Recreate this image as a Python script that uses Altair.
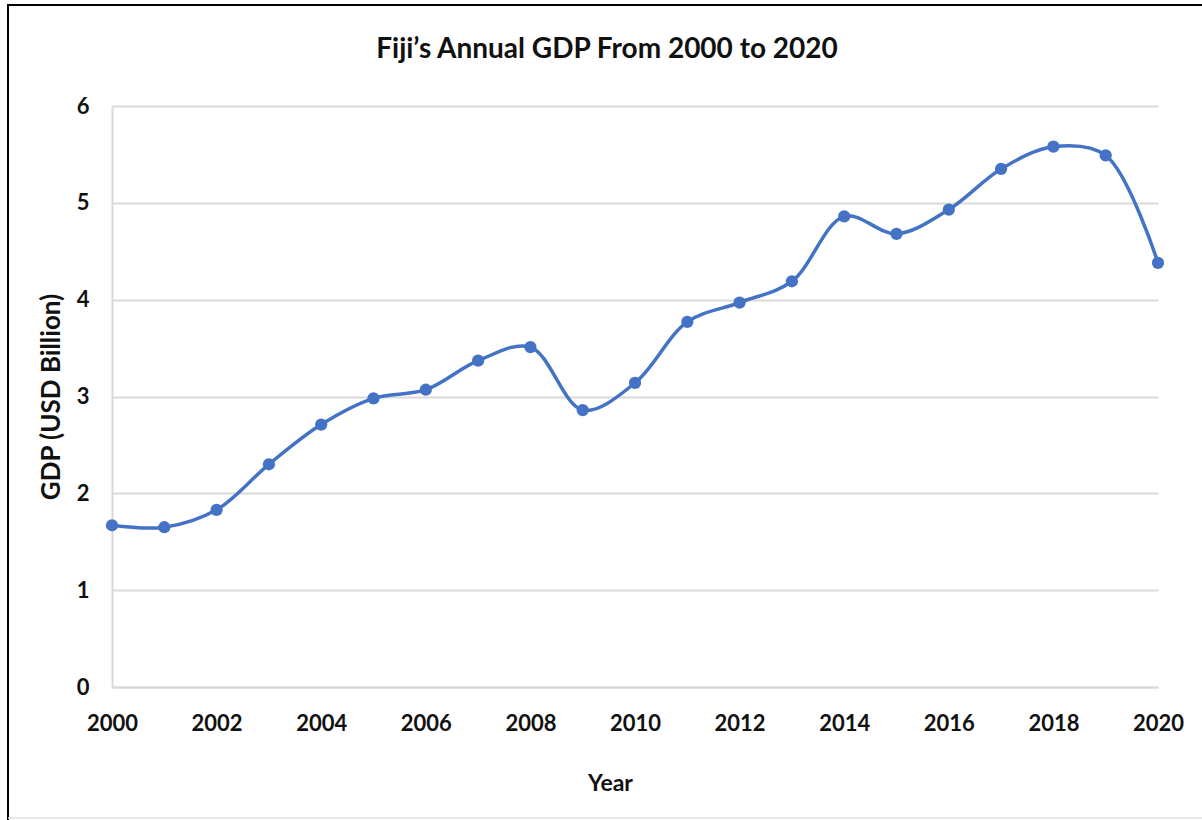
import altair as alt
import pandas as pd

# Fiji annual GDP, USD billion
years = list(range(2000, 2021))
gdp = [1.67, 1.65, 1.83, 2.30, 2.71, 2.98, 3.07, 3.37, 3.51, 2.86, 3.14,
       3.77, 3.97, 4.19, 4.86, 4.68, 4.93, 5.35, 5.58, 5.49, 4.38]
year_ticks = list(range(2000, 2021, 2))
gdp_ticks = [0, 1, 2, 3, 4, 5, 6]
title_text = "Fiji’s Annual GDP From 2000 to 2020"

df = pd.DataFrame({"Year": years, "GDP": gdp})

FONT = "Lato"
BLUE = "#4472C4"
GRID = "#d9d9d9"

x = alt.X(
    "Year:Q",
    scale=alt.Scale(domain=[2000, 2020], nice=False, zero=False),
    axis=alt.Axis(
        values=year_ticks, format="d", title="Year", grid=False,
        ticks=False, domain=True, domainColor=GRID, domainWidth=2,
        labelFont=FONT, labelFontSize=22, labelFontWeight="bold",
        labelColor="#111", labelPadding=26, labelFlush=False,
        titleFont=FONT, titleFontSize=23, titleFontWeight="bold",
        titleColor="#111", titlePadding=38, titleX=498,
    ),
)
y = alt.Y(
    "GDP:Q",
    scale=alt.Scale(domain=[0, 6], nice=False),
    axis=alt.Axis(
        values=gdp_ticks, format="d", title="GDP (USD Billion)", grid=True,
        gridColor=GRID, gridWidth=2, ticks=False, domain=True,
        domainColor=GRID, domainWidth=2,
        labelFont=FONT, labelFontSize=22, labelFontWeight="bold",
        labelColor="#111", labelPadding=23,
        titleFont=FONT, titleFontSize=26, titleFontWeight="bold",
        titleColor="#111", titlePadding=12,
    ),
)

line = alt.Chart(df).mark_line(
    color=BLUE, strokeWidth=3.5, interpolate="catmull-rom"
).encode(x=x, y=y)

points = alt.Chart(df).mark_point(
    filled=True, color=BLUE, size=150, opacity=1
).encode(x="Year:Q", y="GDP:Q")

one = alt.Data(values=[{}])

# chart title, centred over the line area
title = alt.Chart(one).mark_text(
    text=title_text, font=FONT, fontSize=28, fontWeight="bold",
    color="#111", align="center", baseline="alphabetic"
).encode(x=alt.value(495), y=alt.value(-48))

# outer frame of the figure
frame_top = alt.Chart(one).mark_rule(color="#000", strokeWidth=2).encode(
    x=alt.value(-105), x2=alt.value(1090), y=alt.value(-101)
)
frame_left = alt.Chart(one).mark_rule(color="#000", strokeWidth=2).encode(
    x=alt.value(-104), y=alt.value(-102), y2=alt.value(714)
)
frame_bottom = alt.Chart(one).mark_rule(color="#e0e0e0", strokeWidth=1.5).encode(
    x=alt.value(-104), x2=alt.value(1090), y=alt.value(712)
)

chart = (
    alt.layer(line, points, title, frame_top, frame_left, frame_bottom)
    .properties(
        width=1046,
        height=581,
        autosize=alt.AutoSizeParams(type="none"),
        padding={"left": 112, "top": 106, "right": 44, "bottom": 133},
        background="white",
    )
    .configure_view(stroke=None)
)

chart.save("out.html", embed_options={"renderer": "svg", "actions": False})
